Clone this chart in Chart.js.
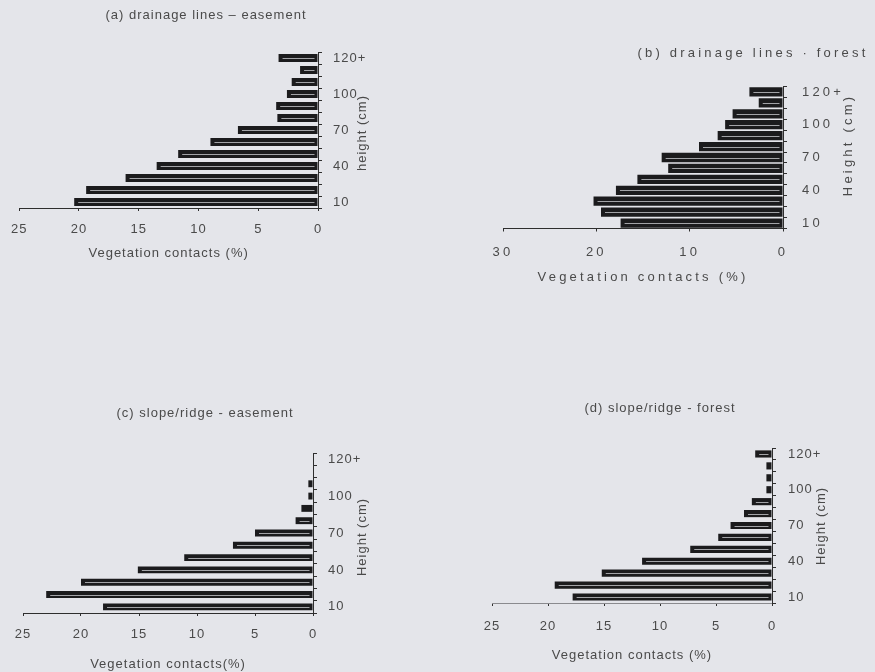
<!DOCTYPE html>
<html>
<head>
<meta charset="utf-8">
<script src="https://cdn.jsdelivr.net/npm/chart.js@4.4.0/dist/chart.umd.min.js"></script>
<style>
  html, body { margin: 0; padding: 0; background: #e4e5ea; }
  #wrap { position: relative; width: 875px; height: 672px; overflow: hidden; }
  #wrap canvas { position: absolute; left: 0; top: 0; }
</style>
</head>
<body>
<div id="wrap">
  <canvas id="chartA" width="875" height="672"></canvas>
  <canvas id="chartB" width="875" height="672"></canvas>
  <canvas id="chartC" width="875" height="672"></canvas>
  <canvas id="chartD" width="875" height="672"></canvas>
</div>
<script>
// Height classes, bottom to top
const heights = ['10', '20', '30', '40', '50', '60', '70', '80', '90', '100', '110', '120', '120+'];

// Vegetation contacts (%) for each panel, same order as heights
const drainageEasement = [20.4, 19.4, 16.1, 13.5, 11.7, 9.0, 6.7, 3.4, 3.5, 2.6, 2.2, 1.5, 3.3];
const drainageForest = [17.4, 19.5, 20.3, 17.9, 15.6, 12.3, 13.0, 9.0, 7.0, 6.2, 5.4, 2.6, 3.6];
const slopeEasement = [18.1, 23.0, 20.0, 15.1, 11.1, 6.9, 5.0, 1.5, 1.0, 0.4, 0.4, 0, 0];
const slopeForest = [17.8, 19.4, 15.2, 11.6, 7.3, 4.8, 3.7, 2.5, 1.8, 0.5, 0.5, 0.5, 1.5];

// Only every third height class gets a label
const shownLabels = ['10', '40', '70', '100', '120+'];

const W = 875, H = 672;
const textColor = '#4a4a4a';
const lineColor = '#2e2e2e';
const fontFamily = '"Liberation Sans", Arial, sans-serif';

// panel title + rotated y title (reads bottom to top)
const panelText = {
  id: 'panelText',
  beforeLayout(chart, args, o) { chart.ctx.letterSpacing = o.spacing + 'px'; },
  beforeDraw(chart, args, o) { chart.ctx.letterSpacing = o.spacing + 'px'; },
  afterDraw(chart, args, o) {
    const ctx = chart.ctx;
    ctx.save();
    ctx.letterSpacing = o.spacing + 'px';
    ctx.fillStyle = textColor;
    ctx.font = '13px ' + fontFamily;
    ctx.textAlign = 'center';
    ctx.textBaseline = 'middle';
    ctx.fillText(o.title, o.titleX, o.titleY);
    ctx.translate(o.yTitleX, o.yTitleY);
    ctx.rotate(-Math.PI / 2);
    ctx.fillText(o.yTitle, 0, 0);
    ctx.restore();
  }
};

// thin light streak inside the bars, like the scanned original
const barStripe = {
  id: 'barStripe',
  afterDatasetsDraw(chart) {
    const ctx = chart.ctx;
    ctx.save();
    ctx.strokeStyle = 'rgba(220,221,226,0.7)';
    ctx.lineWidth = 1;
    chart.getDatasetMeta(0).data.forEach(bar => {
      const a = Math.min(bar.x, bar.base) + 4;
      const b = Math.max(bar.x, bar.base) - 3;
      if (b - a < 5) return;
      const y = Math.round(bar.y) + 0.5;
      ctx.beginPath();
      ctx.moveTo(a, y);
      ctx.lineTo(b, y);
      ctx.stroke();
    });
    ctx.restore();
  }
};

function makePanel(id, values, p) {
  const yWidth = 60;
  const ctx = document.getElementById(id).getContext('2d');
  return new Chart(ctx, {
    type: 'bar',
    data: {
      labels: heights,
      datasets: [{
        data: values,
        backgroundColor: '#1b1b1d',
        borderWidth: 0,
        barPercentage: p.barPct,
        categoryPercentage: 1
      }]
    },
    options: {
      indexAxis: 'y',
      responsive: false,
      animation: false,
      layout: {
        padding: {
          left: p.left,
          top: p.top,
          right: W - p.right - yWidth,
          bottom: H - p.bottom - p.xHeight
        }
      },
      scales: {
        x: {
          reverse: true,
          min: 0,
          max: p.xMax,
          afterFit: s => { s.height = p.xHeight; },
          grid: { drawOnChartArea: false, drawTicks: true, tickLength: 3, color: lineColor },
          border: { display: true, color: p.xBorderColor || lineColor, width: 1, dash: p.xDash || [] },
          ticks: {
            stepSize: p.xStep,
            padding: p.xPad,
            color: textColor,
            font: { family: fontFamily, size: 13 }
          },
          title: {
            display: true,
            text: p.xTitle,
            color: textColor,
            padding: { top: 0, bottom: 0 },
            font: { family: fontFamily, size: 13 }
          }
        },
        y: {
          position: 'right',
          reverse: true,
          afterFit: s => { s.width = yWidth; },
          grid: { drawOnChartArea: false, drawTicks: true, tickLength: 4, color: lineColor },
          border: { display: true, color: lineColor, width: 1 },
          ticks: {
            autoSkip: false,
            padding: p.yPad,
            color: textColor,
            font: { family: fontFamily, size: 13 },
            callback: function (v) {
              const lab = this.getLabelForValue(v);
              return shownLabels.includes(lab) ? lab : '';
            }
          }
        }
      },
      plugins: {
        legend: { display: false },
        tooltip: { enabled: false },
        panelText: {
          spacing: p.spacing,
          title: p.title, titleX: p.titleX, titleY: p.titleY,
          yTitle: p.yTitle, yTitleX: p.yTitleX, yTitleY: p.yTitleY
        }
      }
    },
    plugins: [panelText, barStripe]
  });
}

makePanel('chartA', drainageEasement, {
  left: 15, right: 318, top: 52, bottom: 208, xHeight: 53,
  xMax: 25, xStep: 5, xPad: 11, yPad: 11, barPct: 0.68, spacing: 1,
  title: '(a) drainage lines – easement', titleX: 206, titleY: 15,
  xTitle: 'Vegetation contacts (%)',
  yTitle: 'height (cm)', yTitleX: 362, yTitleY: 133
});

makePanel('chartB', drainageForest, {
  left: 503, right: 783, top: 86.5, bottom: 228.5, xHeight: 57,
  xMax: 30, xStep: 10, xPad: 13, yPad: 15, barPct: 0.85, spacing: 3.2,
  title: '(b) drainage lines · forest', titleX: 753, titleY: 53,
  xTitle: 'Vegetation contacts (%)',
  yTitle: 'Height (cm)', yTitleX: 848, yTitleY: 145
});

makePanel('chartC', slopeEasement, {
  left: 23, right: 313, top: 453, bottom: 613, xHeight: 59,
  xMax: 25, xStep: 5, xPad: 11, yPad: 11, barPct: 0.56, spacing: 1,
  title: '(c) slope/ridge - easement', titleX: 205, titleY: 413,
  xTitle: 'Vegetation contacts(%)',
  yTitle: 'Height (cm)', yTitleX: 362, yTitleY: 537
});

makePanel('chartD', slopeForest, {
  left: 492, right: 772, top: 448, bottom: 603, xHeight: 60,
  xMax: 25, xStep: 5, xPad: 13, yPad: 12, barPct: 0.6, spacing: 1,
  xBorderColor: '#8a8a8e', xDash: [9, 7],
  title: '(d) slope/ridge - forest', titleX: 660, titleY: 408,
  xTitle: 'Vegetation contacts (%)',
  yTitle: 'Height (cm)', yTitleX: 821, yTitleY: 526
});
</script>
</body>
</html>
